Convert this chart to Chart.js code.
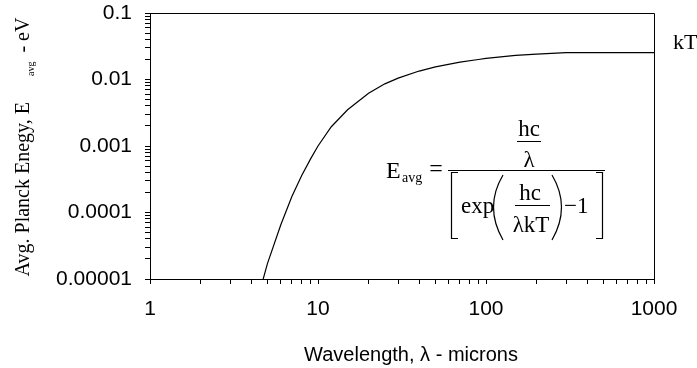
<!DOCTYPE html>
<html><head><meta charset="utf-8">
<script src="https://cdn.jsdelivr.net/npm/chart.js@4.4.1/dist/chart.umd.min.js"></script>
<style>html,body{margin:0;padding:0;background:#fff;}#wrap{width:697px;height:368px;position:relative}</style>
</head><body><div id="wrap"><canvas id="c" width="697" height="368"></canvas></div>
<script>
// ---- data ----
const wavelengthMicrons = [4.5, 5, 6, 7, 8, 9, 10, 12, 15, 20, 25, 30, 40, 50, 70, 90, 100, 150, 200, 300, 500, 1000];
const avgEnergyEV = [6.5e-6, 1.7e-5, 6.5e-5, 1.75e-4, 3.6e-4, 6.3e-4, 1.0e-3, 1.95e-3, 3.5e-3, 6.2e-3, 8.6e-3, 1.05e-2, 1.34e-2, 1.55e-2, 1.82e-2, 2.0e-2, 2.08e-2, 2.3e-2, 2.4e-2, 2.53e-2, 2.53e-2, 2.53e-2];
const xTickValues = [1, 10, 100, 1000];
const xTickLabels = ['1', '10', '100', '1000'];
const yTickValues = [1e-5, 1e-4, 1e-3, 1e-2, 1e-1];
const yTickLabels = ['0.00001', '0.0001', '0.001', '0.01', '0.1'];
const kTLevel = 0.0253;
const kTLabel = 'kT';
const xTitle = 'Wavelength, \u03bb - microns';
const yTitleMain = 'Avg. Planck Enegy, E';
const yTitleSub = 'avg';
const yTitleEnd = '- eV';

const SERIF = '"Liberation Serif", "Times New Roman", serif';
const SANS = '"Liberation Sans", Arial, sans-serif';

function logTicks(majors) {
  const t = [];
  for (let i = 0; i < majors.length; i++) {
    const m = majors[i];
    t.push({value: m});
    if (i < majors.length - 1) for (let k = 2; k <= 9; k++) t.push({value: m * k});
  }
  return t;
}
function labelFor(values, labels) {
  return function (value) {
    const i = values.findIndex(v => Math.abs(v - value) / v < 1e-6);
    return i >= 0 ? labels[i] : '';
  };
}
function zeroPad(s) { s.paddingTop = 0; s.paddingBottom = 0; s.paddingLeft = 0; s.paddingRight = 0; }

const decorPlugin = {
  id: 'decor',
  afterDraw(chart) {
    const ctx = chart.ctx, ca = chart.chartArea, ys = chart.scales.y;
    const L = ca.left, T = ca.top;
    ctx.save();
    // top & right frame
    ctx.strokeStyle = '#000'; ctx.lineWidth = 1;
    ctx.beginPath();
    const ty = Math.round(ca.top) + 0.5, rx = Math.round(ca.right) + 0.5;
    ctx.moveTo(ca.left, ty); ctx.lineTo(rx, ty); ctx.lineTo(rx, ca.bottom);
    ctx.stroke();

    ctx.fillStyle = '#000';
    // kT label
    ctx.font = '22px ' + SERIF; ctx.textAlign = 'left'; ctx.textBaseline = 'alphabetic';
    ctx.fillText(kTLabel, ca.right + 19, ys.getPixelForValue(kTLevel) - 4);

    // x title
    ctx.font = '20px ' + SANS; ctx.textAlign = 'center';
    ctx.fillText(xTitle, (ca.left + ca.right) / 2 + 9, ca.bottom + 82);

    // y title (rotated, with subscript)
    ctx.save();
    const fMain = '20px ' + SERIF, fSub = '10px ' + SERIF;
    ctx.font = fMain; const w1 = ctx.measureText(yTitleMain).width; const w3 = ctx.measureText(yTitleEnd).width;
    ctx.font = fSub; const w2 = ctx.measureText(yTitleSub).width;
    const g1 = 26, g2 = 9;
    const total = w1 + g1 + w2 + g2 + w3;
    ctx.translate(29, (ca.top + ca.bottom) / 2 + 1);
    ctx.rotate(-Math.PI / 2);
    ctx.textAlign = 'left';
    let x = -total / 2;
    ctx.font = fMain; ctx.fillText(yTitleMain, x, 0); x += w1 + g1;
    ctx.font = fSub; ctx.fillText(yTitleSub, x, 5); x += w2 + g2;
    ctx.font = fMain; ctx.fillText(yTitleEnd, x, 0);
    ctx.restore();

    // formula
    ctx.textAlign = 'left';
    ctx.font = '24px ' + SERIF; ctx.fillText('E', L + 236, T + 165);
    ctx.font = '14px ' + SERIF; ctx.fillText('avg', L + 252, T + 169);
    ctx.font = '24px ' + SERIF; ctx.textAlign = 'center'; ctx.fillText('=', L + 286, T + 163);
    ctx.font = '23px ' + SERIF;
    ctx.fillText('hc', L + 379, T + 123);
    ctx.fillText('\u03bb', L + 379, T + 154);
    ctx.fillText('hc', L + 380, T + 187);
    ctx.fillText('\u03bbkT', L + 381, T + 219);
    ctx.textAlign = 'left';
    ctx.fillText('exp', L + 311, T + 200);
    ctx.fillText('\u22121', L + 414, T + 200);
    ctx.lineWidth = 1.2;
    ctx.beginPath();
    // bars
    ctx.moveTo(L + 298, T + 157.5); ctx.lineTo(L + 455, T + 157.5);
    ctx.moveTo(L + 367, T + 128.5); ctx.lineTo(L + 391, T + 128.5);
    ctx.moveTo(L + 365, T + 192.5); ctx.lineTo(L + 400, T + 192.5);
    // brackets
    ctx.moveTo(L + 308, T + 159.5); ctx.lineTo(L + 301.5, T + 159.5); ctx.lineTo(L + 301.5, T + 225.5); ctx.lineTo(L + 308, T + 225.5);
    ctx.moveTo(L + 446, T + 159.5); ctx.lineTo(L + 452.5, T + 159.5); ctx.lineTo(L + 452.5, T + 225.5); ctx.lineTo(L + 446, T + 225.5);
    ctx.stroke();
    // parentheses
    ctx.beginPath();
    ctx.moveTo(L + 353, T + 162); ctx.quadraticCurveTo(L + 334, T + 194, L + 353, T + 227);
    ctx.moveTo(L + 402, T + 162); ctx.quadraticCurveTo(L + 421, T + 194, L + 402, T + 227);
    ctx.stroke();
    ctx.restore();
  }
};

const tickFont = {family: SANS, size: 21};
new Chart(document.getElementById('c'), {
  type: 'line',
  data: {
    datasets: [{
      data: wavelengthMicrons.map((x, i) => ({x: x, y: avgEnergyEV[i]})),
      borderColor: '#000', borderWidth: 1.2, pointRadius: 0, tension: 0, fill: false
    }]
  },
  options: {
    responsive: false, animation: false, devicePixelRatio: 1,
    layout: {padding: {top: 13, right: 43, left: 0, bottom: 0}},
    plugins: {legend: {display: false}, tooltip: {enabled: false}},
    scales: {
      x: {
        type: 'logarithmic', min: 1, max: 1000,
        afterBuildTicks: s => { s.ticks = logTicks(xTickValues); },
        afterFit: s => { s.height = 89; zeroPad(s); },
        grid: {drawOnChartArea: false, drawTicks: true, tickLength: 5, color: '#000', tickColor: '#000'},
        border: {color: '#000', width: 1},
        ticks: {autoSkip: false, maxRotation: 0, minRotation: 0, padding: 13, color: '#000', font: tickFont,
          callback: labelFor(xTickValues, xTickLabels)}
      },
      y: {
        type: 'logarithmic', min: 1e-5, max: 0.1,
        afterBuildTicks: s => { s.ticks = logTicks(yTickValues); },
        afterFit: s => { s.width = 150; zeroPad(s); },
        grid: {drawOnChartArea: false, drawTicks: true, tickLength: 5, color: '#000', tickColor: '#000'},
        border: {color: '#000', width: 1},
        ticks: {autoSkip: false, padding: 13, color: '#000', font: tickFont,
          callback: labelFor(yTickValues, yTickLabels)}
      }
    }
  },
  plugins: [decorPlugin]
});
</script>
</body></html>
